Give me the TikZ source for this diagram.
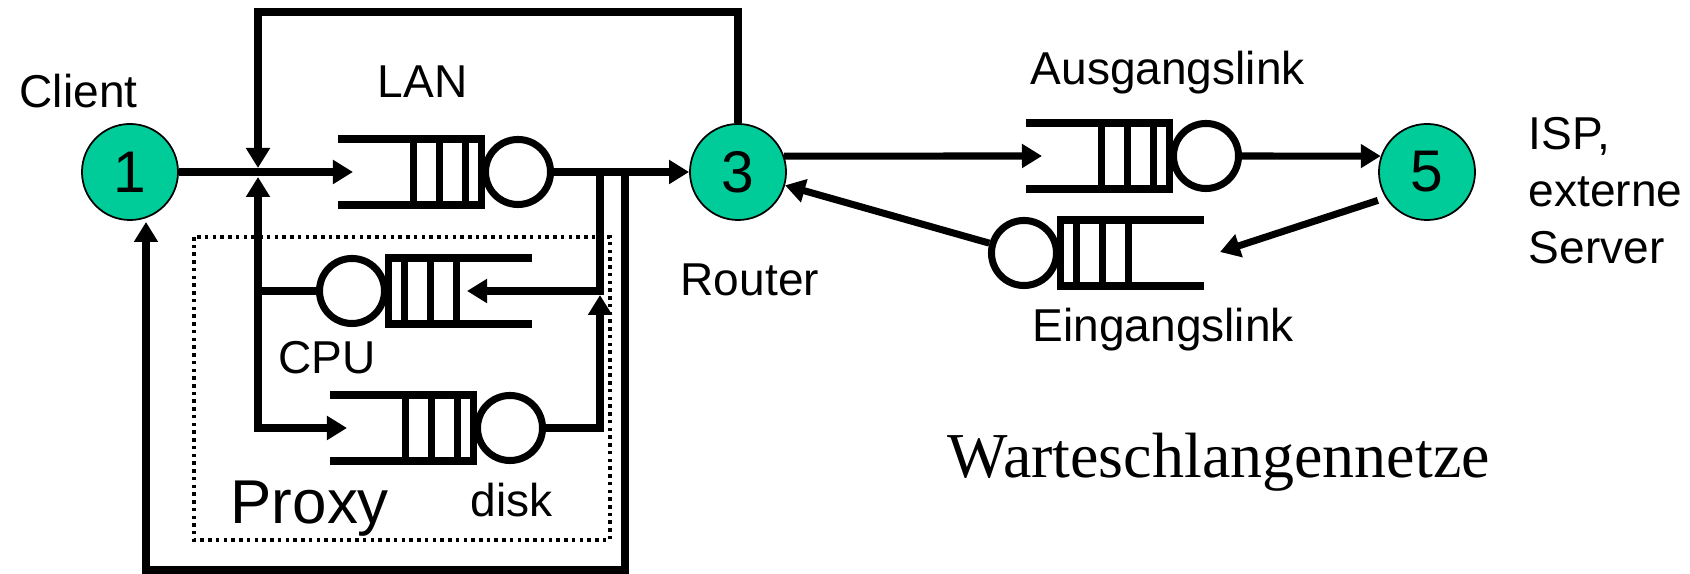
\documentclass[tikz,border=0pt]{standalone}
\usepackage{fontspec}
\setmainfont{Liberation Sans}
\newfontfamily\titlefont{Liberation Serif}
\usepackage{xcolor}
\usetikzlibrary{positioning,arrows.meta}
\definecolor{stgreen}{RGB}{0,204,153}

\begin{document}
\begin{tikzpicture}[
    x=0.01cm, y=0.01cm,
    station/.style={
        circle,
        draw=black,
        line width=0.5pt,
        fill=stgreen,
        minimum size=0.96cm,
        inner sep=0pt,
        font=\fontsize{16.7}{20}\selectfont
    },
    server/.style={
        circle,
        draw=black,
        line width=2pt,
        minimum size=0.65cm,
        inner sep=0pt
    },
    lbl/.style={anchor=base west, inner sep=0pt, font=\fontsize{13.1}{16.1}\selectfont},
    wire/.style={line width=2pt},
    arrow/.style={-{Triangle[length=0.2cm,width=0.23cm]}, line width=2pt},
    bufL/.pic={
        \draw[wire] (-144,33) -- (0,33) -- (0,-33) -- (-144,-33);
        \foreach \b in {16,42,68} {\draw[wire] (-\b,33) -- (-\b,-33);}
    },
    bufR/.pic={
        \draw[wire] (144,33) -- (0,33) -- (0,-33) -- (144,-33);
        \foreach \b in {16,42,68} {\draw[wire] (\b,33) -- (\b,-33);}
    }
]
\useasboundingbox (0,0) rectangle (1690,-574);

% stations
\node[station] (n1) at (130,-172) {1};
\node[station] (n3) at (738,-172) {3};
\node[station] (n5) at (1427,-172) {5};

% queues
\node[server] (lan) at (518,-172) {};
\node[server] (cpu) at (352,-291) {};
\node[server] (disk) at (510,-428) {};
\node[server] (aus) at (1206,-156) {};
\node[server] (ein) at (1024,-253) {};
\pic at (lan.west) {bufL};
\pic at (cpu.east) {bufR};
\pic at (disk.west) {bufL};
\pic at (aus.west) {bufL};
\pic at (ein.east) {bufR};

% proxy box
\draw[line width=1pt, dash pattern=on 1pt off 1.2pt] (194,-237) rectangle (610,-540);

% labels
\node[lbl] (client) at (19,-108) {Client};
\node[lbl] (lanlbl) at (377,-98) {LAN};
\node[lbl] (router) at (680,-296) {Router};
\node[lbl] (cpulbl) at (278,-374) {CPU};
\node[lbl] (disklbl) at (470,-517) {disk};
\node[lbl, font=\fontsize{17.6}{21}\selectfont] (proxy) at (230,-524) {Proxy};
\node[lbl] (auslbl) at (1030,-85) {Ausgangslink};
\node[lbl] (einlbl) at (1032,-342) {Eingangslink};
\node[lbl, anchor=north west, align=left] (isp) at (1528,-117) {ISP,\\externe\\Server};
\node[lbl, font=\titlefont\fontsize{18.2}{22}\selectfont] (title) at (947,-478) {Warteschlangennetze};

% connector ends
\coordinate (lanin) at (353,-172);
\coordinate (ctop) at (258,-12);
\coordinate (jtop) at (258,-168);
\coordinate (jbot) at (258,-177);
\coordinate (cpuin) at (467,-291);
\coordinate (diskin) at (347,-428);
\coordinate (spl1) at (600,-172);
\coordinate (spl2) at (625,-172);
\coordinate (dskup) at (600,-295);
\coordinate (cbot) at (625,-570);
\coordinate (n1in) at (146,-222);
\coordinate (ausin) at (1042,-156);
\coordinate (einin) at (1220,-252);

\draw[arrow] (n1) -- (lanin);
\draw[arrow] (n3.north) |- (ctop) -- (jtop);
\draw[arrow] (cpu.west) -| (jbot);
\draw[arrow] (jbot |- cpu.west) |- (diskin);
\draw[arrow] (lan) -- (n3);
\draw[arrow] (spl1) |- (cpuin);
\draw[arrow] (disk) -| (dskup);
\draw[arrow] (spl2) -- (cbot) -| (n1in);
\draw[arrow] (n3.19) -- (ausin);
\draw[arrow] (aus) -- (n5.161);
\draw[arrow, shorten <=0.08cm] (n5.212) -- (einin);
\draw[arrow] (ein) -- (n3);

\end{tikzpicture}
\end{document}
